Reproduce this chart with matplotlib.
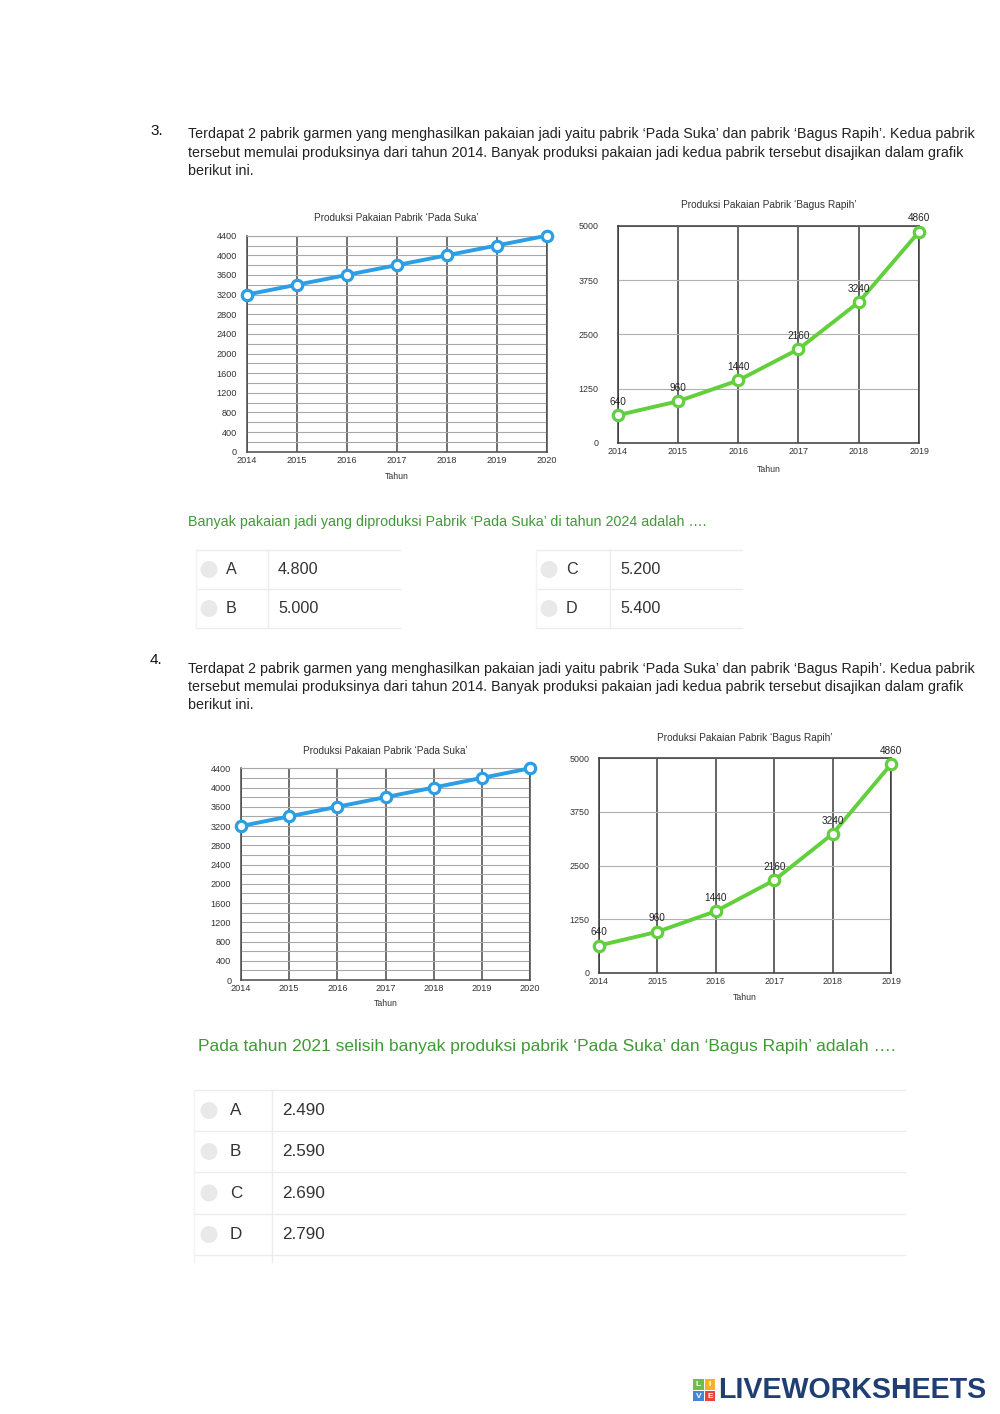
import matplotlib
matplotlib.use("Agg")
import matplotlib.pyplot as plt
from matplotlib.ticker import MultipleLocator
from matplotlib.patches import Ellipse, Rectangle

# ---------------- data ----------------
years_suka = [2014, 2015, 2016, 2017, 2018, 2019, 2020]
prod_suka = [3200, 3400, 3600, 3800, 4000, 4200, 4400]
suka_yticks = [0, 400, 800, 1200, 1600, 2000, 2400, 2800, 3200, 3600, 4000, 4400]

years_rapih = [2014, 2015, 2016, 2017, 2018, 2019]
prod_rapih = [640, 960, 1440, 2160, 3240, 4860]
rapih_yticks = [0, 1250, 2500, 3750, 5000]

title_suka = "Produksi Pakaian Pabrik \u2018Pada Suka\u2019"
title_rapih = "Produksi Pakaian Pabrik \u2018Bagus Rapih\u2019"
xlabel = "Tahun"

intro_lines = [
    "Terdapat 2 pabrik garmen yang menghasilkan pakaian jadi yaitu pabrik \u2018Pada Suka\u2019 dan pabrik \u2018Bagus Rapih\u2019. Kedua pabrik",
    "tersebut memulai produksinya dari tahun 2014. Banyak produksi pakaian jadi kedua pabrik tersebut disajikan dalam grafik",
    "berikut ini.",
]
q3_question = "Banyak pakaian jadi yang diproduksi Pabrik \u2018Pada Suka\u2019 di tahun 2024 adalah \u2026."
q3_letters = ["A", "B", "C", "D"]
q3_values = ["4.800", "5.000", "5.200", "5.400"]
q4_question = "Pada tahun 2021 selisih banyak produksi pabrik \u2018Pada Suka\u2019 dan \u2018Bagus Rapih\u2019 adalah \u2026."
q4_letters = ["A", "B", "C", "D"]
q4_values = ["2.490", "2.590", "2.690", "2.790"]

# ---------------- style ----------------
W, H = 1000, 1414
BLUE = "#2b9ee6"
GREEN = "#62cf3c"
QGREEN = "#3f9a36"
FONT = ["Liberation Sans", "DejaVu Sans"]

plt.rcParams["font.family"] = FONT

fig = plt.figure(figsize=(W / 100, H / 100), dpi=100)
fig.patch.set_facecolor("white")


def px_ax(x0, y0, x1, y1, **kw):
    return fig.add_axes([x0 / W, 1 - y1 / H, (x1 - x0) / W, (y1 - y0) / H], **kw)


def txt(x, y, s, **kw):
    kw.setdefault("va", "center")
    return fig.text(x / W, 1 - y / H, s, **kw)


def chart_suka(x0, y0, x1, y1, title_y, xl_y, ypad):
    ax = px_ax(x0, y0, x1, y1)
    ax.set_xlim(years_suka[0], years_suka[-1])
    ax.set_ylim(suka_yticks[0], suka_yticks[-1])
    ax.set_xticks(years_suka)
    ax.set_yticks(suka_yticks)
    ax.yaxis.set_minor_locator(MultipleLocator(200))
    ax.grid(axis="y", which="both", color="#a8a8a8", lw=0.8)
    ax.grid(axis="x", which="major", color="#4a4a4a", lw=1.1)
    ax.tick_params(axis="both", which="both", length=0, labelsize=6.6, colors="#333333")
    ax.tick_params(axis="y", pad=ypad)
    ax.tick_params(axis="x", pad=3)
    for s in ["left", "right", "bottom"]:
        ax.spines[s].set_color("#4a4a4a")
        ax.spines[s].set_linewidth(1.1)
    ax.spines["top"].set_color("#a8a8a8")
    ax.spines["top"].set_linewidth(0.8)
    ax.set_axisbelow(True)
    ax.plot(years_suka, prod_suka, color=BLUE, lw=2.8, marker="o", ms=7.5,
            mfc="white", mec=BLUE, mew=2.3, clip_on=False, zorder=5)
    cx = (x0 + x1) / 2
    txt(cx, title_y, title_suka, ha="center", fontsize=7.2, color="#333333")
    txt(cx, xl_y, xlabel, ha="center", fontsize=6.3, color="#333333")


def chart_rapih(x0, y0, x1, y1, title_y, xl_y, ypad):
    ax = px_ax(x0, y0, x1, y1)
    ax.set_xlim(years_rapih[0], years_rapih[-1])
    ax.set_ylim(rapih_yticks[0], rapih_yticks[-1])
    ax.set_xticks(years_rapih)
    ax.set_yticks(rapih_yticks)
    ax.grid(axis="y", color="#b0b0b0", lw=0.8)
    ax.grid(axis="x", color="#3a3a3a", lw=1.1)
    ax.tick_params(axis="both", length=0, labelsize=6.4, colors="#333333")
    ax.tick_params(axis="y", pad=ypad)
    ax.tick_params(axis="x", pad=3)
    for s in ["left", "right", "bottom", "top"]:
        ax.spines[s].set_color("#3a3a3a")
        ax.spines[s].set_linewidth(1.1)
    ax.set_axisbelow(True)
    ax.plot(years_rapih, prod_rapih, color=GREEN, lw=2.8, marker="o", ms=7.5,
            mfc="white", mec=GREEN, mew=2.3, clip_on=False, zorder=5)
    for xv, yv in zip(years_rapih, prod_rapih):
        ax.annotate(str(yv), (xv, yv), xytext=(0, 6), textcoords="offset points",
                    ha="center", va="bottom", fontsize=7.2, color="#222222",
                    annotation_clip=False, zorder=6)
    cx = (x0 + x1) / 2
    txt(cx, title_y, title_rapih, ha="center", fontsize=7.3, color="#333333")
    txt(cx, xl_y, xlabel, ha="center", fontsize=6.3, color="#333333")


def intro(num, num_y, y_lines):
    txt(150, num_y, num, ha="left", fontsize=11, color="#111111")
    for yy, line in zip(y_lines, intro_lines):
        txt(188, yy, line, ha="left", fontsize=10.3, color="#222222")


def option_row(y_top, y_bot, letter, value, circ_x, let_x, val_x, fs):
    yc = (y_top + y_bot) / 2
    fig.patches.append(Ellipse((circ_x / W, 1 - yc / H), 17 / W, 17 / H,
                               transform=fig.transFigure,
                               facecolor="#e9e9e9", edgecolor="none"))
    txt(let_x, yc, letter, ha="left", fontsize=fs, color="#333333")
    txt(val_x, yc, value, ha="left", fontsize=fs, color="#333333")


def hline(x0, x1, y, color="#ececec", lw=1.0):
    fig.lines.append(plt.Line2D([x0 / W, x1 / W], [1 - y / H, 1 - y / H],
                                transform=fig.transFigure, color=color, lw=lw))


def vline(x, y0, y1, color="#ececec", lw=1.0):
    fig.lines.append(plt.Line2D([x / W, x / W], [1 - y0 / H, 1 - y1 / H],
                                transform=fig.transFigure, color=color, lw=lw))


# ================= Question 3 =================
intro("3.", 131, [134, 153, 171])
chart_suka(246.7, 235.7, 546.7, 451.7, 218, 476, 7)
chart_rapih(617.7, 225.7, 919, 443, 205, 469, 14)
txt(188, 522, q3_question, ha="left", fontsize=10.3, color=QGREEN)

for x_left, x_div, x_right, idx in [(196, 268, 400, 0), (536, 610, 742, 2)]:
    hline(x_left, x_right, 550)
    hline(x_left, x_right, 589)
    hline(x_left, x_right, 628)
    vline(x_div, 550, 628)
    vline(x_left, 550, 628, color="#f3f3f3")
    for k in range(2):
        option_row(550 + 39 * k, 589 + 39 * k,
                   q3_letters[idx + k], q3_values[idx + k],
                   x_left + 13, x_left + 30, x_div + 10, 11.6)

# ================= Question 4 =================
intro("4.", 660, [669, 687, 705])
chart_suka(241, 768.3, 530, 980, 751, 1004, 7)
chart_rapih(599, 758.3, 891, 973, 738, 997, 7)
txt(198, 1046, q4_question, ha="left", fontsize=12.5, color=QGREEN)

rows = [1090, 1131, 1172, 1214, 1255]
for yy in rows:
    hline(194, 905, yy)
vline(272, 1090, 1262)
vline(194, 1090, 1262, color="#f3f3f3")
for k in range(4):
    option_row(rows[k], rows[k + 1], q4_letters[k], q4_values[k],
               209, 230, 282, 12.3)

# ================= logo =================
sq = [("#6cc04a", "L", 693, 1379), ("#f5b324", "I", 704.5, 1379),
      ("#3f87d6", "V", 693, 1390.5), ("#e8443a", "E", 704.5, 1390.5)]
for col, ch, sx, sy in sq:
    fig.patches.append(Rectangle((sx / W, 1 - (sy + 10.5) / H), 10.5 / W, 10.5 / H,
                                 transform=fig.transFigure, facecolor=col, edgecolor="none"))
    txt(sx + 5.25, sy + 5.5, ch, ha="center", fontsize=6, color="white",
        fontweight="bold")
txt(718, 1390, "LIVEWORKSHEETS", ha="left", fontsize=20.6, color="#1f3f74",
    fontweight="bold")

fig.savefig("out.png", dpi=100, facecolor="white")
